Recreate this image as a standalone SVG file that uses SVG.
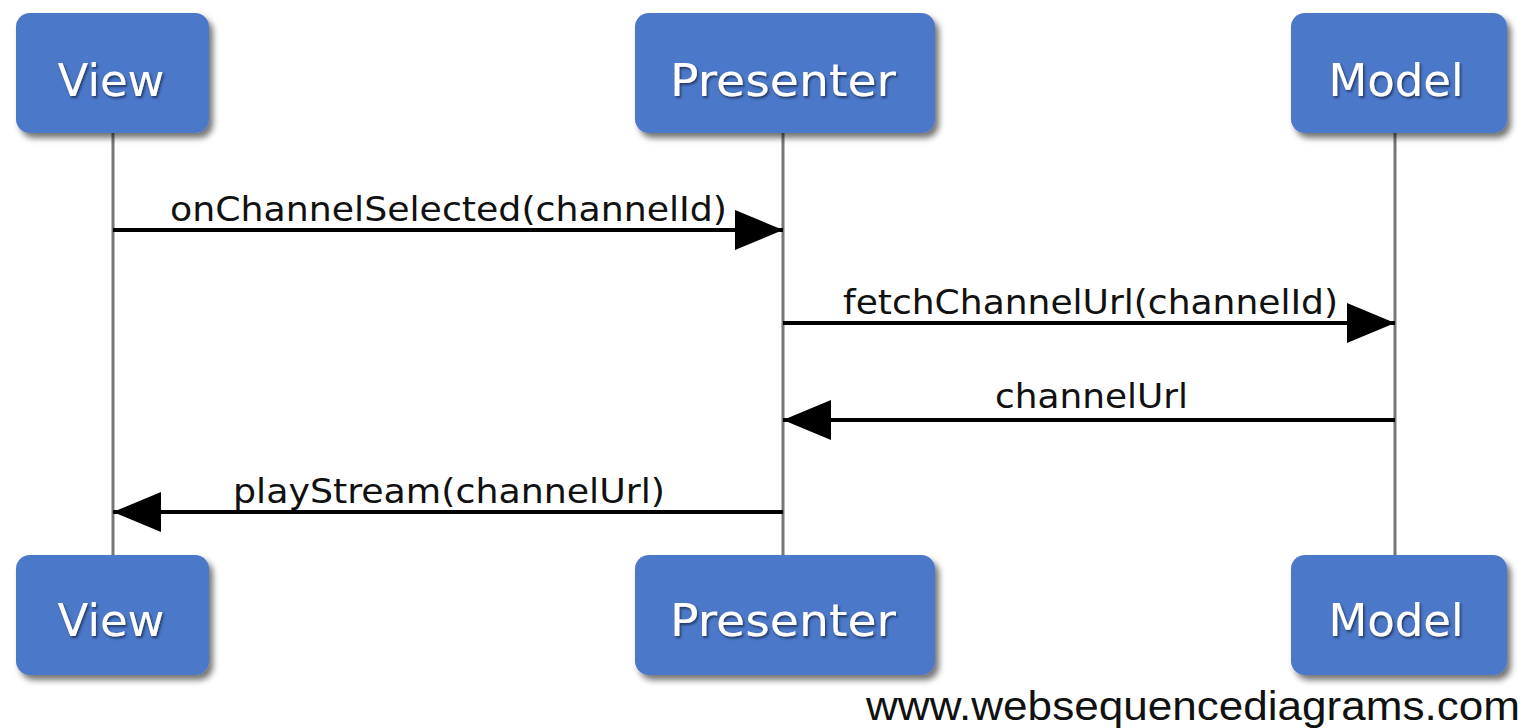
<svg xmlns="http://www.w3.org/2000/svg" width="1531" height="728" viewBox="0 0 1531 728">
<defs>
<filter id="bs" x="-10%" y="-10%" width="125%" height="130%">
<feDropShadow dx="4" dy="5" stdDeviation="3" flood-color="#000" flood-opacity="0.55"/>
</filter>
<filter id="ts" x="-5%" y="-10%" width="115%" height="130%">
<feDropShadow dx="1.5" dy="2" stdDeviation="1.2" flood-color="#1a2a50" flood-opacity="0.8"/>
</filter>
<marker id="ah" viewBox="0 0 48 40" refX="48" refY="20" markerWidth="48" markerHeight="40" markerUnits="userSpaceOnUse" orient="auto">
<path d="M0,0 L48,20 L0,40 Z" fill="#000"/>
</marker>
</defs>
<style>
.box{fill:#4c78c8;filter:url(#bs)}
.title{font-family:"DejaVu Sans",Verdana,sans-serif;font-size:45px;fill:#fff;text-anchor:middle;filter:url(#ts)}
.life{stroke:#777;stroke-width:3}
.msg{stroke:#000;stroke-width:4;fill:none;marker-end:url(#ah)}
.lbl{font-family:"DejaVu Sans Condensed","DejaVu Sans",sans-serif;font-size:34px;fill:#111}
.wm{font-family:"Liberation Sans",Arial,sans-serif;font-size:40px;fill:#111}
</style>
<rect width="1531" height="728" fill="#fff"/>
<g id="lifelines">
<line class="life" x1="113" y1="133" x2="113" y2="556"/>
<line class="life" x1="783" y1="133" x2="783" y2="556"/>
<line class="life" x1="1395" y1="133" x2="1395" y2="556"/>
</g>
<g id="view-top"><rect class="box" x="16" y="13" width="193" height="120" rx="14"/><text class="title" x="111" y="96">View</text></g>
<g id="presenter-top"><rect class="box" x="635" y="13" width="300" height="120" rx="14"/><text class="title" x="783" y="96" textLength="226" lengthAdjust="spacingAndGlyphs">Presenter</text></g>
<g id="model-top"><rect class="box" x="1291" y="13" width="216" height="120" rx="14"/><text class="title" x="1396" y="96">Model</text></g>
<g id="view-bottom"><rect class="box" x="16" y="555" width="193" height="120" rx="14"/><text class="title" x="111" y="636">View</text></g>
<g id="presenter-bottom"><rect class="box" x="635" y="555" width="300" height="120" rx="14"/><text class="title" x="783" y="636" textLength="226" lengthAdjust="spacingAndGlyphs">Presenter</text></g>
<g id="model-bottom"><rect class="box" x="1291" y="555" width="216" height="120" rx="14"/><text class="title" x="1396" y="636">Model</text></g>
<g id="connectors">
<line class="msg" x1="113" y1="230" x2="783" y2="230"/>
<line class="msg" x1="783" y1="323" x2="1395" y2="323"/>
<line class="msg" x1="1395" y1="420" x2="783" y2="420"/>
<line class="msg" x1="783" y1="512" x2="113" y2="512"/>
<text class="lbl" x="170" y="221" textLength="557" lengthAdjust="spacingAndGlyphs">onChannelSelected(channelId)</text>
<text class="lbl" x="843" y="314" textLength="495" lengthAdjust="spacingAndGlyphs">fetchChannelUrl(channelId)</text>
<text class="lbl" x="995" y="408" textLength="193" lengthAdjust="spacingAndGlyphs">channelUrl</text>
<text class="lbl" x="233" y="503" textLength="432" lengthAdjust="spacingAndGlyphs">playStream(channelUrl)</text>
</g>
<text class="wm" x="866" y="720" textLength="654" lengthAdjust="spacingAndGlyphs">www.websequencediagrams.com</text>
</svg>
